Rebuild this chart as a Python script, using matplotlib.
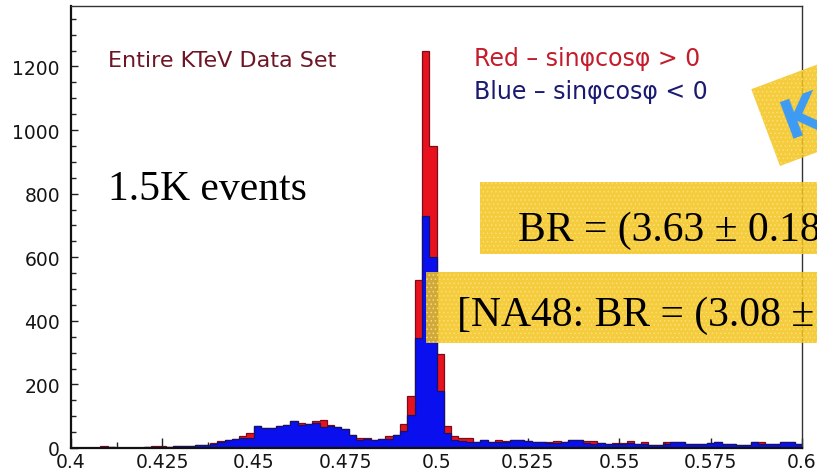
import numpy as np
import matplotlib
matplotlib.use("Agg")
import matplotlib.pyplot as plt
from matplotlib.patches import Rectangle
from matplotlib.ticker import MultipleLocator

# ---- data: invariant-mass histogram, 100 bins of 0.002 GeV from 0.40 to 0.60 ----
bin_edges = np.round(np.linspace(0.40, 0.60, 101), 4)

counts_pos = [  # sin(phi)cos(phi) > 0
    0, 0, 0, 0, 6, 2, 0, 0, 0, 0,
    4, 6, 6, 4, 5, 5, 5, 8, 11, 17,
    21, 25, 29, 37, 48, 70, 63, 63, 70, 71,
    86, 80, 76, 84, 87, 72, 66, 60, 42, 31,
    31, 24, 29, 37, 42, 76, 165, 527, 1250, 950,
    295, 70, 37, 30, 31, 20, 25, 20, 25, 23,
    25, 25, 22, 20, 18, 18, 22, 18, 26, 26,
    22, 22, 15, 12, 16, 15, 21, 14, 20, 11,
    10, 19, 19, 19, 14, 14, 12, 15, 19, 14,
    12, 11, 11, 19, 19, 12, 14, 19, 19, 12,
]
counts_neg = [  # sin(phi)cos(phi) < 0
    0, 0, 0, 0, 3, 2, 0, 0, 0, 0,
    4, 3, 3, 4, 5, 5, 5, 8, 11, 14,
    20, 24, 29, 31, 30, 70, 63, 63, 70, 71,
    86, 72, 74, 80, 66, 70, 66, 60, 42, 26,
    29, 24, 29, 29, 40, 55, 105, 345, 730, 600,
    178, 48, 26, 23, 20, 20, 25, 20, 18, 20,
    25, 25, 22, 20, 18, 15, 15, 18, 26, 26,
    15, 12, 15, 12, 12, 12, 15, 14, 14, 11,
    10, 14, 19, 19, 14, 14, 12, 15, 19, 14,
    12, 11, 11, 19, 14, 12, 14, 19, 19, 12,
]

x_ticks = [0.4, 0.425, 0.45, 0.475, 0.5, 0.525, 0.55, 0.575, 0.6]
x_tick_labels = ["0.4", "0.425", "0.45", "0.475", "0.5", "0.525", "0.55", "0.575", "0.6"]
y_ticks = [0, 200, 400, 600, 800, 1000, 1200]
y_tick_labels = ["0", "200", "400", "600", "800", "1000", "1200"]

title_text = "Entire KTeV Data Set"
legend_red = "Red \u2013 sin\u03c6cos\u03c6 > 0"
legend_blue = "Blue \u2013 sin\u03c6cos\u03c6 < 0"
events_text = "1.5K events"
br_text = "BR = (3.63 \u00b1 0.18"
na48_text = "[NA48: BR = (3.08 \u00b1"
stamp_text = "K"

# ---- figure ----
W, H = 817, 477
fig = plt.figure(figsize=(W / 100, H / 100), dpi=100)
fig.patch.set_facecolor("white")
ax = fig.add_axes([71 / W, 1 - 449 / H, 731 / W, 442 / H])

ax.stairs(counts_pos, bin_edges, fill=True, facecolor="#e8121e",
          edgecolor="#7a0d18", linewidth=0.9, zorder=1)
ax.stairs(counts_neg, bin_edges, fill=True, facecolor="#0a0ff0",
          edgecolor="#141466", linewidth=0.9, zorder=2)

ax.set_xlim(0.4, 0.6)
ax.set_ylim(0, 1390)

ax.set_xticks(x_ticks, x_tick_labels)
ax.set_yticks(y_ticks, y_tick_labels)
ax.xaxis.set_minor_locator(MultipleLocator(0.0125))
ax.yaxis.set_minor_locator(MultipleLocator(50))
ax.tick_params(axis="both", which="both", direction="in", color="#222222",
               width=1.0, labelsize=13.5, labelcolor="#151515")
ax.tick_params(axis="x", which="major", length=7, pad=3)
ax.tick_params(axis="x", which="minor", length=4)
ax.tick_params(axis="y", which="major", length=5, pad=8)
ax.tick_params(axis="y", which="minor", length=3.5)

for side in ("left", "bottom"):
    ax.spines[side].set_linewidth(1.6)
    ax.spines[side].set_color("#111111")
for side in ("top", "right"):
    ax.spines[side].set_linewidth(1.0)
    ax.spines[side].set_color("#333333")
for sp in ax.spines.values():
    sp.set_zorder(3)

# ---- in-plot annotations ----
ax.text(0.0506, 0.864, title_text, transform=ax.transAxes, fontsize=16,
        color="#6e1626", ha="left", va="baseline", family="DejaVu Sans")
ax.text(0.551, 0.867, legend_red, transform=ax.transAxes, fontsize=17,
        color="#c41c2c", ha="left", va="baseline", family="DejaVu Sans")
ax.text(0.551, 0.792, legend_blue, transform=ax.transAxes, fontsize=17,
        color="#1a1a72", ha="left", va="baseline", family="DejaVu Sans")

serif = "Liberation Serif"
fig.text(108 / W, 1 - 200 / H, events_text, fontsize=30, family=serif,
         color="black", ha="left", va="baseline")

# highlighted result boxes (semi-transparent speckled yellow)
plt.rcParams["hatch.linewidth"] = 0.6
box_kw = dict(facecolor="#f4c41c", edgecolor="#fbe27a", linewidth=0,
              hatch="....", alpha=0.85, zorder=10)
fig.add_artist(Rectangle((480 / W, 1 - 255 / H), 1.0, 72 / H,
                         transform=fig.transFigure, **box_kw))
fig.add_artist(Rectangle((426 / W, 1 - 344 / H), 1.0, 71 / H,
                         transform=fig.transFigure, **box_kw))
fig.text(518 / W, 1 - 241 / H, br_text, fontsize=30, family=serif,
         color="black", ha="left", va="baseline", zorder=11)
fig.text(457 / W, 1 - 326 / H, na48_text, fontsize=30, family=serif,
         color="black", ha="left", va="baseline", zorder=11)

# tilted sticker in the upper-right corner
fig.add_artist(Rectangle((7.80, (H - 167) / 100), 2.5, 0.82, angle=20.5,
                         transform=fig.dpi_scale_trans, **box_kw))
fig.text(8.02, (H - 118) / 100, stamp_text, transform=fig.dpi_scale_trans,
         fontsize=38, color="#3d9bf5", rotation=20.5, ha="center",
         va="center", family="DejaVu Sans", fontweight="bold", zorder=11)

fig.savefig("out.png", dpi=100)
